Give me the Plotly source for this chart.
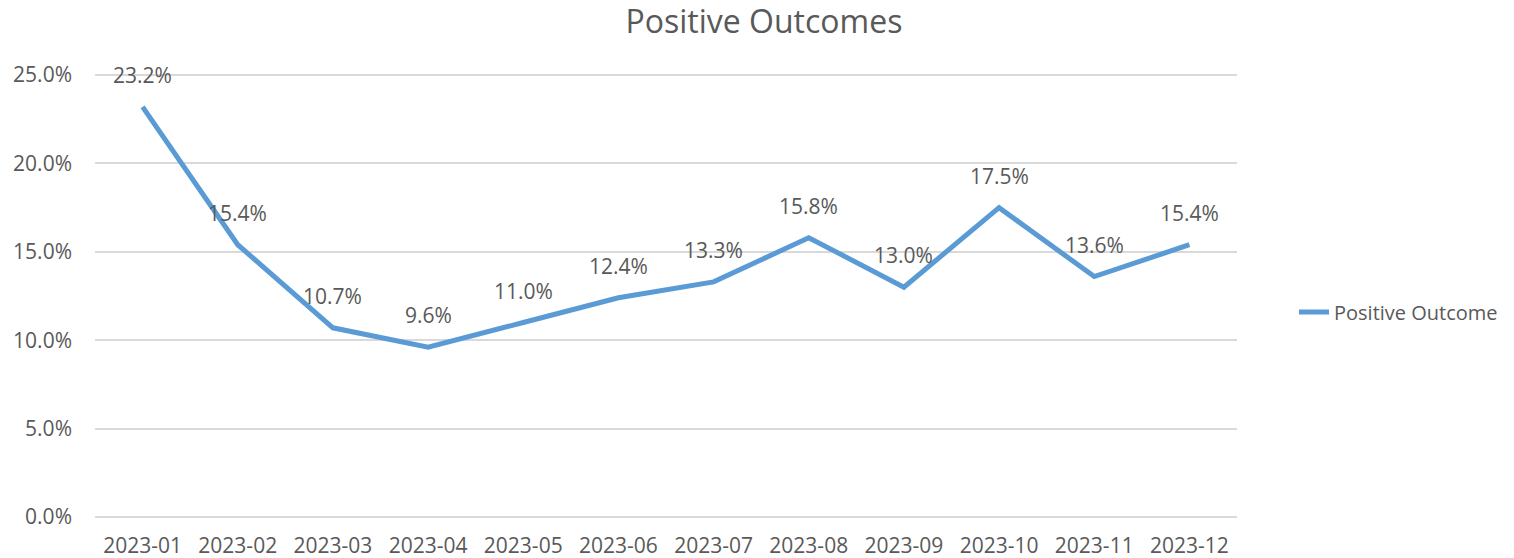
import plotly.graph_objects as go

# monthly share of positive outcomes (%)
months = ['2023-01', '2023-02', '2023-03', '2023-04', '2023-05', '2023-06',
          '2023-07', '2023-08', '2023-09', '2023-10', '2023-11', '2023-12']
positive = [23.2, 15.4, 10.7, 9.6, 11.0, 12.4, 13.3, 15.8, 13.0, 17.5, 13.6, 15.4]
ytick_vals = [0, 5, 10, 15, 20, 25]
ytick_text = ['0.0%', '5.0%', '10.0%', '15.0%', '20.0%', '25.0%']

txt = '#595959'
fnt = 'Open Sans'

fig = go.Figure()
fig.add_trace(go.Scatter(x=months, y=positive, mode='lines', name='Positive Outcome',
                         line=dict(color='#5B9BD5', width=5), hoverinfo='skip'))

# data labels above each point
for m, v in zip(months, positive):
    fig.add_annotation(x=m, y=v, text='{:.1f}%'.format(v), showarrow=False,
                       yshift=32, font=dict(family=fnt, size=21, color=txt))

fig.update_layout(
    width=1514, height=558,
    margin=dict(l=95, r=276, t=74, b=40),
    paper_bgcolor='white', plot_bgcolor='white',
    title=dict(text='Positive Outcomes', x=0.5046, xanchor='center', xref='container',
               y=0.9606, yanchor='middle', font=dict(family=fnt, size=32, color=txt)),
    font=dict(family=fnt, size=21, color=txt),
    showlegend=True,
    # legend kept just inside the page so it does not push the right margin
    legend=dict(x=1.049, y=0.464, xanchor='left', yanchor='middle',
                font=dict(family=fnt, size=20, color=txt), bgcolor='rgba(0,0,0,0)'),
)
fig.update_xaxes(type='category', range=[-0.5, 11.5], showgrid=False, zeroline=False,
                 showline=False, ticks='', ticklabelstandoff=13, automargin=False,
                 tickfont=dict(family=fnt, size=21, color=txt))
# range padded a hair so the 0% and 25% gridlines are not clipped at the edges
fig.update_yaxes(range=[-0.06, 25.06], tickvals=ytick_vals, ticktext=ytick_text,
                 showgrid=True, gridcolor='#D9D9D9', gridwidth=2, zeroline=False,
                 showline=False, ticks='', ticklabelstandoff=22, automargin=False,
                 tickfont=dict(family=fnt, size=21, color=txt))

# drop the default body margin so the figure fills the window exactly
js = ("document.documentElement.style.margin='0';"
      "document.documentElement.style.overflow='hidden';"
      "document.body.style.margin='0';"
      "document.body.style.overflow='hidden';"
      "document.body.style.height='558px';")
fig.write_html("out.html", post_script=js, config={'displayModeBar': False})
